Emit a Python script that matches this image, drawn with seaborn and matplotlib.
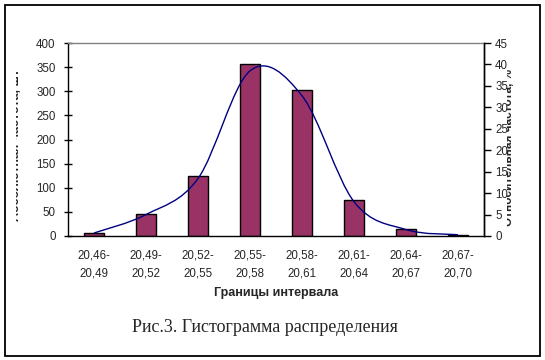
import numpy as np
import pandas as pd
import matplotlib
matplotlib.use("Agg")
import matplotlib.pyplot as plt
import seaborn as sns
from matplotlib.path import Path
from matplotlib.patches import PathPatch, Rectangle

# interval bounds and counts
intervals = ["20,46-\n20,49", "20,49-\n20,52", "20,52-\n20,55", "20,55-\n20,58",
             "20,58-\n20,61", "20,61-\n20,64", "20,64-\n20,67", "20,67-\n20,70"]
counts = [6, 46, 124, 356, 302, 74, 14, 2]
rel_pct = [0.7, 5.0, 13.4, 38.5, 32.7, 8.0, 1.5, 0.3]

left_ticks = [0, 50, 100, 150, 200, 250, 300, 350, 400]
right_ticks = [0, 5, 10, 15, 20, 25, 30, 35, 40, 45]

sns.set_style("white")
plt.rcParams['font.family'] = ['Liberation Sans', 'DejaVu Sans']

W, H = 545, 360
fig = plt.figure(figsize=(W / 100, H / 100), dpi=100)
ax = fig.add_axes([68 / W, 124 / H, 416 / W, 193 / H])

df = pd.DataFrame({'interval': intervals, 'count': counts})
sns.barplot(data=df, x='interval', y='count', ax=ax, color='#993366',
            saturation=1, width=0.4, edgecolor='black', linewidth=1.0)
for p in ax.patches:
    p.set_zorder(2)

ax.set_xlim(-0.5, len(intervals) - 0.5)
ax.set_ylim(0, 400)
ax.set_yticks(left_ticks)
ax.set_xticks(np.arange(len(intervals) + 1) - 0.5)
ax.set_xticklabels([])
ax.set_xticks(np.arange(len(intervals)), minor=True)
ax.set_xticklabels(intervals, minor=True, fontsize=8.3, linespacing=1.65)
ax.tick_params(axis='x', which='major', direction='inout', length=7, width=1, color='black')
ax.tick_params(axis='x', which='minor', length=0, pad=10)
ax.tick_params(axis='y', direction='inout', length=6, width=1, color='black',
               labelsize=8.3, pad=6, left=True)
ax.set_xlabel('Границы интервала', fontsize=9, fontweight='bold', labelpad=5)
ax.set_ylabel('')
for s in ['left', 'bottom', 'right']:
    ax.spines[s].set_color('black')
    ax.spines[s].set_linewidth(1.0)
ax.spines['top'].set_color('#808080')
ax.spines['top'].set_linewidth(1.0)

ax2 = ax.twinx()
ax2.set_zorder(5)
ax2.set_ylim(0, 45)
ax2.set_yticks(right_ticks)
ax2.tick_params(axis='y', direction='out', length=5, width=1, color='black',
                labelsize=8.3, pad=3, right=True)
for s in ['left', 'bottom', 'top']:
    ax2.spines[s].set_visible(False)
ax2.spines['right'].set_color('black')
ax2.spines['right'].set_linewidth(1.0)

# Excel-style smoothed line: Bezier segments through the data points
xs = np.arange(len(rel_pct), dtype=float)
ys = np.array(rel_pct, dtype=float)
pts = np.column_stack([xs, ys])
ext = np.vstack([pts[0], pts, pts[-1]])
verts = [tuple(pts[0])]
codes = [Path.MOVETO]
for i in range(len(pts) - 1):
    p0, p1, p2, p3 = ext[i], ext[i + 1], ext[i + 2], ext[i + 3]
    c1 = p1 + (p2 - p0) / 6
    c2 = p2 - (p3 - p1) / 6
    verts += [tuple(c1), tuple(c2), tuple(p2)]
    codes += [Path.CURVE4] * 3
ax2.add_patch(PathPatch(Path(verts, codes), facecolor='none',
                        edgecolor='#000080', linewidth=1.0, zorder=3))

# axis titles, half hidden as in the reference
fig.text(19 / W, 1 - 145 / H, 'Абсолютная частота, шт', rotation=90,
         rotation_mode='anchor', ha='center', va='baseline',
         fontsize=9, fontweight='bold', zorder=3)
fig.text(512 / W, 1 - 148 / H, 'Относительная частота, %', rotation=90,
         rotation_mode='anchor', ha='center', va='baseline',
         fontsize=8.5, fontweight='bold', zorder=3)
fig.add_artist(Rectangle((6 / W, 125 / H), 10 / W, 175 / H, transform=fig.transFigure,
                         facecolor='white', edgecolor='none', zorder=4))
fig.add_artist(Rectangle((496 / W, 125 / H), 11 / W, 175 / H, transform=fig.transFigure,
                         facecolor='white', edgecolor='none', zorder=4))

fig.text(265 / W, 1 - 328 / H, 'Рис.3. Гистограмма распределения',
         ha='center', va='center', fontsize=13,
         family=['Liberation Serif', 'DejaVu Serif'])

fig.add_artist(Rectangle((5 / W, 4 / H), 535 / W, 351 / H, transform=fig.transFigure,
                         fill=False, edgecolor='black', linewidth=1.3, zorder=6))

fig.savefig('out.png', dpi=100)
plt.close(fig)
